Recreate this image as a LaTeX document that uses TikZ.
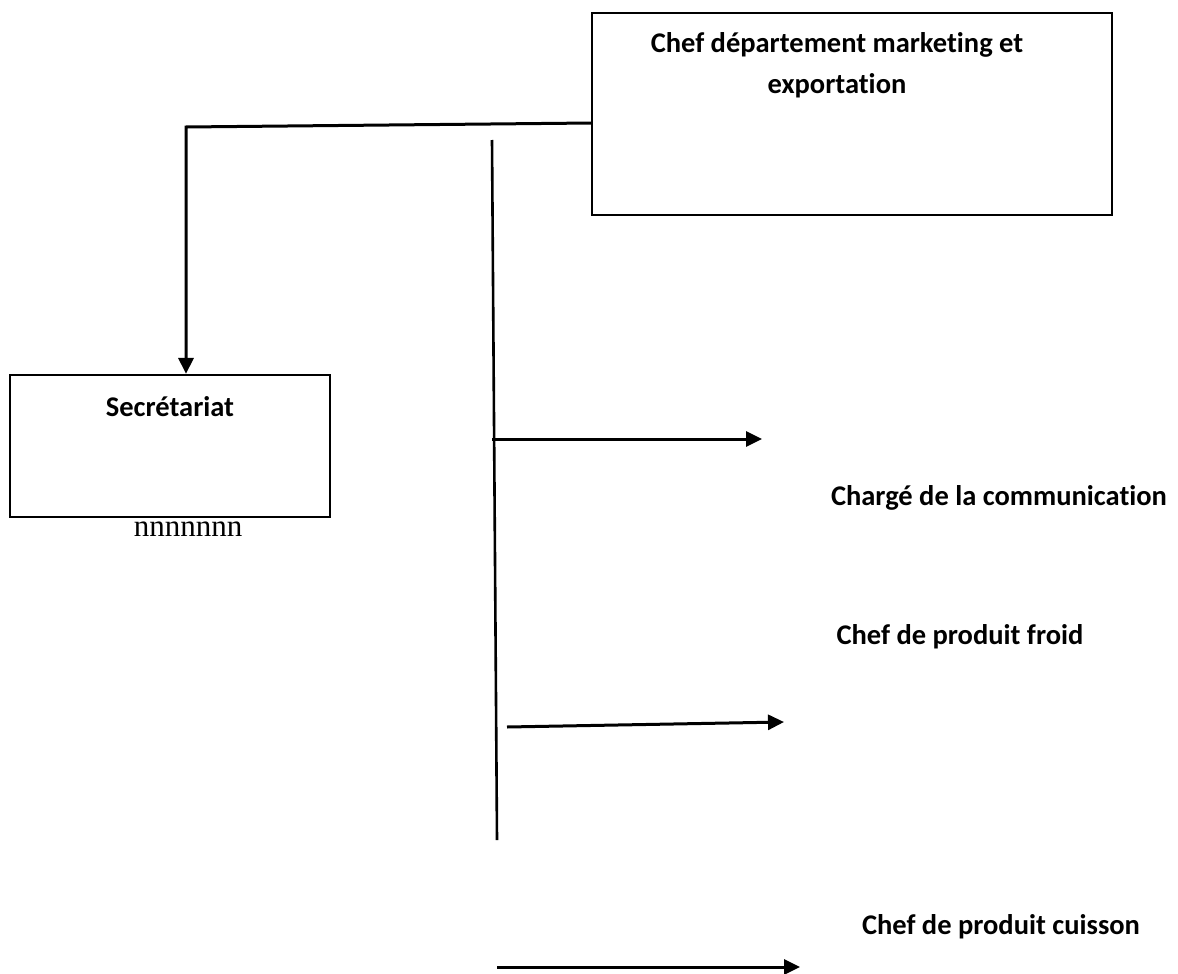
\documentclass[tikz,border=0pt]{standalone}
\usepackage{fontspec}
\setmainfont{Carlito}[Ligatures=NoCommon]
\newfontfamily\serifnn{Liberation Serif}
\usetikzlibrary{arrows.meta}
\tikzset{
  box/.style={draw,line width=2.2pt,inner sep=0pt},
  lbl/.style={font=\fontsize{28.5}{41}\selectfont\bfseries,align=center,inner sep=0pt},
  arr/.style={line width=3pt,-{Triangle[length=16pt,width=15pt]}},
  stem/.style={line width=2.6pt}
}

\begin{document}
\begin{tikzpicture}[x=1pt,y=-1pt]
        \useasboundingbox (0,0) rectangle (1178,974);
        % Boxes
        \node[box,minimum width=520pt,minimum height=202pt] (chef) at (852,114) {};
        \node[box,minimum width=320pt,minimum height=142pt] (sec) at (170,446) {};
        % Box texts
        \node[lbl] (cheftxt) at (837,65) {Chef département marketing et\\exportation};
        \node[lbl] (sectxt) at (170,407) {Secrétariat};
        \node[font=\fontsize{31}{36}\serifnn,inner sep=0pt,anchor=base] (nn) at (188,536) {nnnnnnn};
        % Right-hand labels
        \node[lbl] (comm) at (999,498) {Chargé de la communication};
        \node[lbl] (froid) at (960,637) {Chef de produit froid};
        \node[lbl] (cuis) at (1001,927) {Chef de produit cuisson};
        % Link to secretariat
        \coordinate (c1) at (592,123);
        \coordinate (bend) at (186,127);
        \draw[arr] (c1) -- (bend) -- (bend |- sec.north);
        % Vertical stem
        \coordinate (vtop) at (492,140);
        \coordinate (vbot) at (497,840);
        \draw[stem] (vtop) -- (vbot);
        % Arrows to the right
        \coordinate (a1) at (492,439);
        \coordinate (b1) at (762,439);
        \coordinate (a2) at (507,727);
        \coordinate (b2) at (784,722);
        \coordinate (a3) at (497,967);
        \coordinate (b3) at (800,967);
        \draw[arr] (a1) -- (b1);
        \draw[arr] (a2) -- (b2);
        \draw[arr] (a3) -- (b3);
\end{tikzpicture}
\end{document}
